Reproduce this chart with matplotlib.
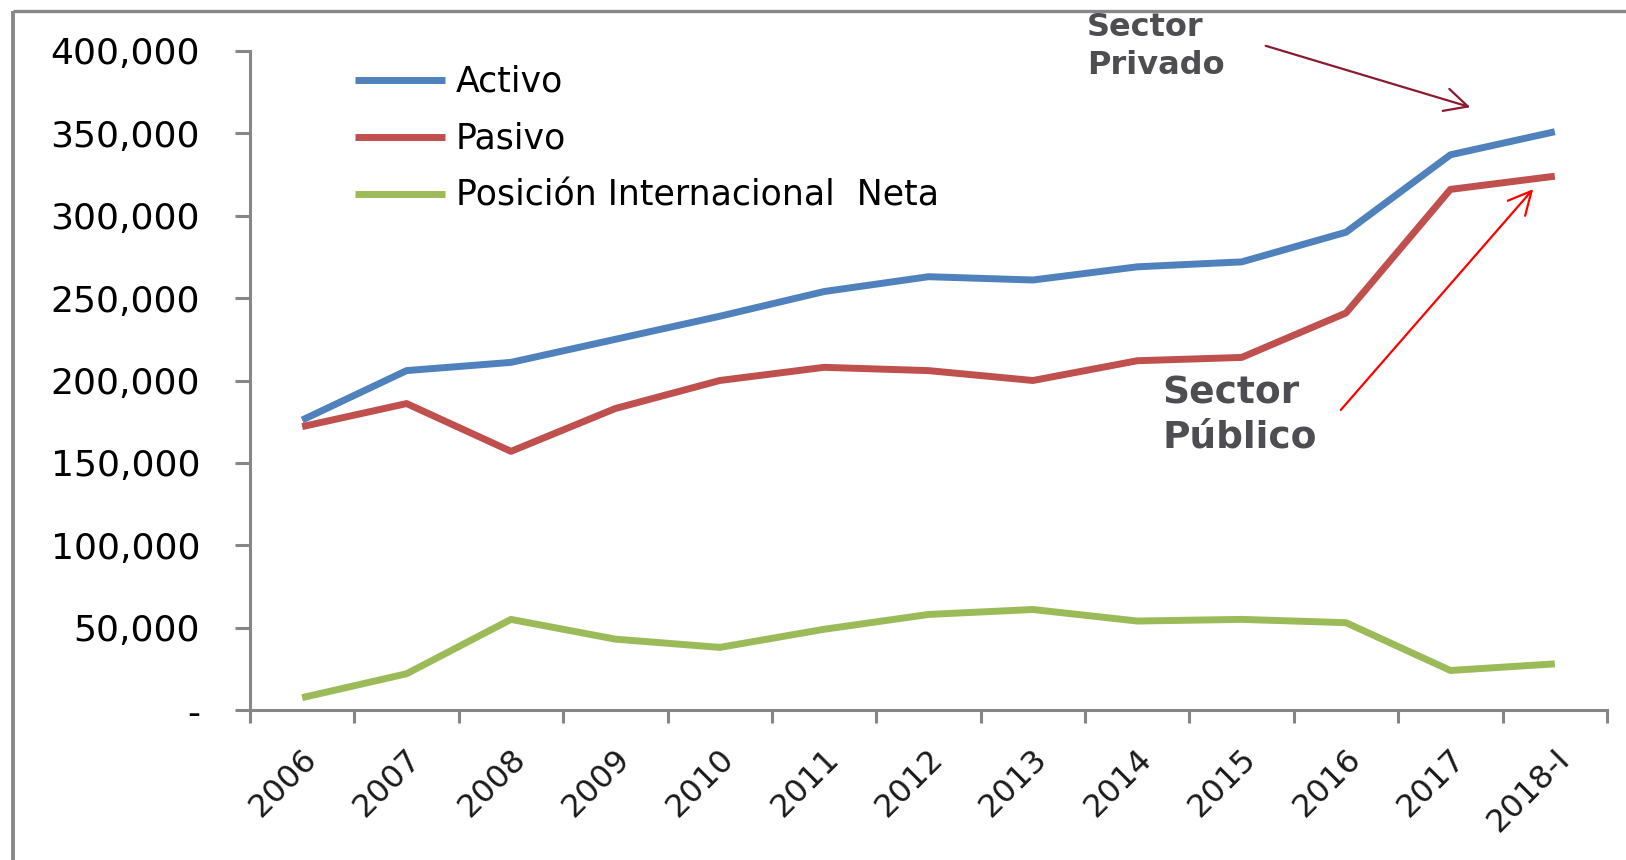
import matplotlib
matplotlib.use("Agg")
import matplotlib.pyplot as plt
from matplotlib.lines import Line2D
from matplotlib.transforms import ScaledTranslation

categories = ["2006", "2007", "2008", "2009", "2010", "2011", "2012",
              "2013", "2014", "2015", "2016", "2017", "2018-I"]
activo = [176000, 206000, 211000, 225000, 239000, 254000, 263000,
          261000, 269000, 272000, 290000, 337000, 351000]
pasivo = [172000, 186000, 157000, 183000, 200000, 208000, 206000,
          200000, 212000, 214000, 241000, 316000, 324000]
neta = [7500, 22000, 55000, 43000, 38000, 49000, 58000,
        61000, 54000, 55000, 53000, 24000, 28000]
series_names = ["Activo", "Pasivo", "Posición Internacional  Neta"]
series_colors = ["#4F81BD", "#C0504D", "#9BBB59"]
y_ticks = [0, 50000, 100000, 150000, 200000, 250000, 300000, 350000, 400000]
y_labels = ["-", "50,000", "100,000", "150,000", "200,000", "250,000",
            "300,000", "350,000", "400,000"]

W, H = 1626, 860
fig = plt.figure(figsize=(W / 100, H / 100), dpi=100)
fig.patch.set_facecolor("white")

def fx(px):
    return px / W

def fy(py):
    return 1 - py / H

ax = fig.add_axes([fx(250), fy(710), fx(1607) - fx(250), fy(51) - fy(710)])
x = list(range(len(categories)))
for vals, name, col in zip([activo, pasivo, neta], series_names, series_colors):
    ax.plot(x, vals, color=col, lw=5.0, label=name, solid_joinstyle="round",
            solid_capstyle="butt")

ax.set_xlim(-0.5, len(categories) - 0.5)
ax.set_ylim(0, 400000)

for s in ["top", "right"]:
    ax.spines[s].set_visible(False)
for s in ["left", "bottom"]:
    ax.spines[s].set_color("#868686")
    ax.spines[s].set_linewidth(2.2)

ax.set_yticks(y_ticks)
ax.set_yticklabels(y_labels)
ax.tick_params(axis="y", direction="out", length=11, width=2.2, color="#868686",
               pad=25, labelsize=26, labelcolor="#000000")

ax.set_xticks([i - 0.5 for i in range(len(categories) + 1)])
ax.set_xticklabels([])
ax.tick_params(axis="x", which="major", direction="out", length=9.5, width=2.2,
               color="#868686")
ax.set_xticks(x, minor=True)
ax.set_xticklabels(categories, minor=True, rotation=45, ha="right",
                   rotation_mode="anchor", fontsize=23, color="#1a1a1a")
ax.tick_params(axis="x", which="minor", length=0, pad=24)
for lab in ax.get_xticklabels(minor=True):
    lab.set_transform(lab.get_transform() + ScaledTranslation(-1 / 100, 0, fig.dpi_scale_trans))

leg = ax.legend(loc="upper left", bbox_to_anchor=(fx(355), fy(65)),
                bbox_transform=fig.transFigure, frameon=False, fontsize=25,
                handlelength=2.6, handletextpad=0.3, labelspacing=0.66,
                borderpad=0, borderaxespad=0)
for t in leg.get_texts():
    t.set_color("#000000")

# annotations
fig.text(fx(1087), fy(12), "Sector\nPrivado", fontsize=23, fontweight="bold",
         color="#4D4D52", ha="left", va="top", linespacing=1.3)
fig.text(fx(1162), fy(375), "Sector\nPúblico", fontsize=27, fontweight="bold",
         color="#4D4D52", ha="left", va="top", linespacing=1.3)
fig.add_artist(matplotlib.patches.FancyArrowPatch(
    (fx(1263), fy(45)), (fx(1473), fy(108)), transform=fig.transFigure,
    arrowstyle="->,head_length=11,head_width=5.5", color="#8B1A2E", lw=1.6,
    mutation_scale=1.5))
fig.add_artist(matplotlib.patches.FancyArrowPatch(
    (fx(1339), fy(412)), (fx(1535), fy(187)), transform=fig.transFigure,
    arrowstyle="->,head_length=11,head_width=5.5", color="#FF0000", lw=1.6,
    mutation_scale=1.5))

# outer frame (top and left edges visible)
fig.add_artist(Line2D([fx(13), 1.0], [fy(10.5), fy(10.5)], color="#888888", lw=2.4,
                      transform=fig.transFigure, solid_capstyle="butt"))
fig.add_artist(Line2D([fx(13), fx(13)], [fy(10.5), 0.0], color="#888888", lw=2.8,
                      transform=fig.transFigure, solid_capstyle="butt"))

fig.savefig("out.png", dpi=100, facecolor="white")
